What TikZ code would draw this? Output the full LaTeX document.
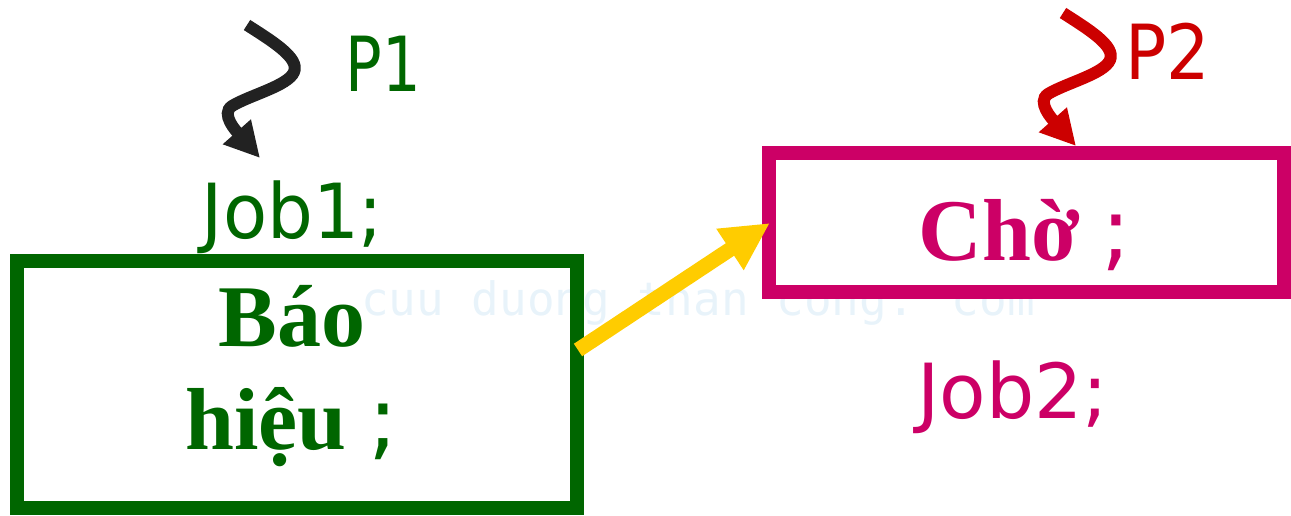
\documentclass[tikz,border=0pt]{standalone}
\usepackage{fontspec}
\usepackage{graphicx}
\setmainfont{Liberation Serif}
\newfontfamily\comicfont{DejaVu Sans}
\newfontfamily\wmfont{DejaVu Sans Mono}
\usetikzlibrary{arrows.meta}
\definecolor{gboxc}{HTML}{006600}
\definecolor{pboxc}{HTML}{CC0066}
\definecolor{redc}{HTML}{CC0000}
\definecolor{blk}{HTML}{222222}
\definecolor{yel}{HTML}{FFCC00}
\definecolor{wmc}{RGB}{232,243,250}
\tikzset{
  boxstyle/.style={draw, line width=14pt, inner sep=0pt, fill=none},
  serifbig/.style={anchor=base, inner sep=0pt, font=\bfseries\fontsize{88}{100}\selectfont},
  comictext/.style={anchor=base, inner sep=0pt, font=\comicfont\fontsize{76}{86}\selectfont},
  squig/.style={line width=12pt, line cap=butt, -{Triangle[length=35pt,width=35pt]}},
  yarrow/.style={line width=15pt, line cap=butt, yel, -{Triangle[length=48pt,width=46pt]}}
}
\begin{document}
\begin{tikzpicture}[x=1pt,y=-1pt]
\useasboundingbox (0,0) rectangle (1291,516);
% watermark
\node[anchor=base, inner sep=0pt, text=wmc, font=\wmfont\fontsize{46}{50}\selectfont] (wm) at (698,315) {cuu duong than cong. com};
% boxes
\node[boxstyle, draw=gboxc, minimum width=560pt, minimum height=247pt] (bao) at (297,384.5) {};
\node[boxstyle, draw=pboxc, minimum width=515.5pt, minimum height=138pt] (cho) at (1026.25,222.5) {};
% texts
\node[serifbig, text=gboxc] (bao1) at (292,346) {Báo};
\node[serifbig, text=gboxc] (bao2) at (292,449) {hiệu {\mdseries\comicfont ;}};
\node[serifbig, text=pboxc] (chotext) at (1025,260) {Chờ {\mdseries\comicfont ;}};
\node[comictext, text=gboxc] (p1) at (383.5,92) {\scalebox{0.8}[1]{P1}};
\node[comictext, text=redc] (p2) at (1167.5,80) {\scalebox{0.9}[1]{P2}};
\node[comictext, text=gboxc] (job1) at (292.5,238) {\scalebox{0.95}[1]{Job1;}};
\node[comictext, text=pboxc] (job2) at (1013,418) {Job2;};
% connectors
\coordinate (s1) at (247,25);
\coordinate (e1) at (260,158);
\coordinate (s2) at (1063,13);
\coordinate (e2) at (1076,146);
\coordinate (ya) at (578,350);
\coordinate (yb) at (770,223);
\draw[squig, blk] (s1) .. controls (272,41) and (300,58) .. (294,72)
  .. controls (288,86) and (250,95) .. (232,106)
  .. controls (220,114) and (237,132) .. (e1);
\draw[squig, redc] (s2) .. controls (1088,29) and (1116,46) .. (1110,60)
  .. controls (1104,74) and (1066,83) .. (1048,94)
  .. controls (1036,102) and (1053,120) .. (e2);
\draw[yarrow] (ya) -- (yb);
\end{tikzpicture}
\end{document}
